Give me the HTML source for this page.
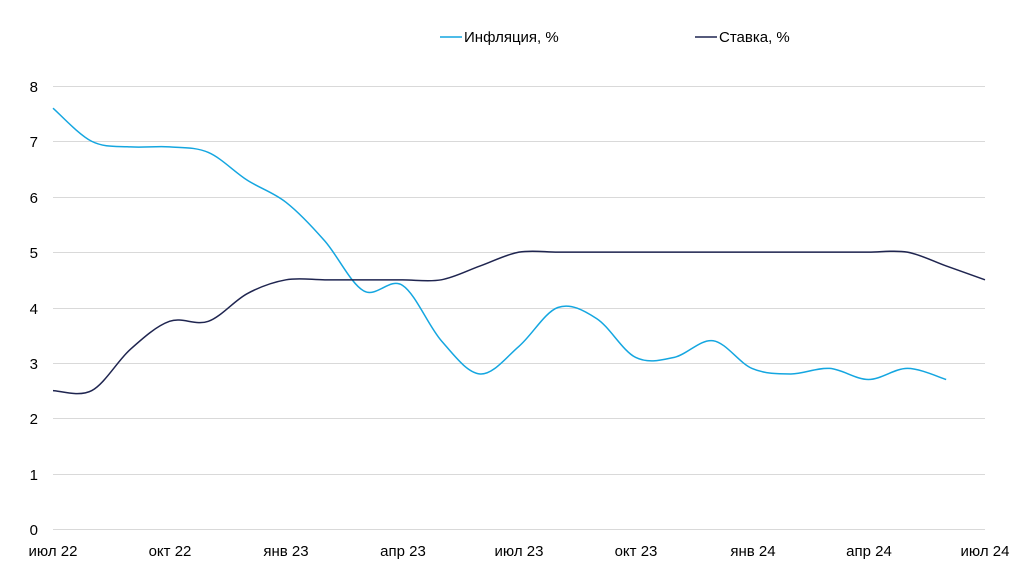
<!DOCTYPE html>
<html><head><meta charset="utf-8"><style>
body{margin:0;background:#fff;}
svg{display:block;font-family:"Liberation Sans","DejaVu Sans",sans-serif;}
</style></head><body>
<svg id="c" width="1024" height="588" xmlns="http://www.w3.org/2000/svg">
<g stroke="#d9d9d9" stroke-width="1">
<line x1="53" x2="985" y1="86.5" y2="86.5"/><line x1="53" x2="985" y1="141.5" y2="141.5"/>
<line x1="53" x2="985" y1="197.5" y2="197.5"/><line x1="53" x2="985" y1="252.5" y2="252.5"/>
<line x1="53" x2="985" y1="308.5" y2="308.5"/><line x1="53" x2="985" y1="363.5" y2="363.5"/>
<line x1="53" x2="985" y1="418.5" y2="418.5"/><line x1="53" x2="985" y1="474.5" y2="474.5"/>
<line x1="53" x2="985" y1="529.5" y2="529.5"/>
</g>
<g font-size="15" fill="#000" text-anchor="end">
<text x="38" y="92">8</text><text x="38" y="147">7</text><text x="38" y="203">6</text>
<text x="38" y="258">5</text><text x="38" y="314">4</text><text x="38" y="369">3</text>
<text x="38" y="424">2</text><text x="38" y="480">1</text><text x="38" y="535">0</text>
</g>
<g font-size="15" fill="#000" text-anchor="middle">
<text x="53" y="556">июл 22</text><text x="170" y="556">окт 22</text><text x="286" y="556">янв 23</text>
<text x="403" y="556">апр 23</text><text x="519" y="556">июл 23</text><text x="636" y="556">окт 23</text>
<text x="753" y="556">янв 24</text><text x="869" y="556">апр 24</text><text x="985" y="556">июл 24</text>
</g>
<line x1="440" x2="462" y1="37" y2="37" stroke="#14a6e0" stroke-width="1.5"/>
<text x="464" y="42" font-size="15">Инфляция, %</text>
<line x1="695" x2="717" y1="37" y2="37" stroke="#1f2550" stroke-width="1.5"/>
<text x="719" y="42" font-size="15">Ставка, %</text>
<path id="inf" fill="none" stroke="#14a6e0" stroke-width="1.5"/>
<path id="rate" fill="none" stroke="#1f2550" stroke-width="1.5"/>
</svg>
<script>
function X(i){return 53+i*932/24;}function Y(v){return 529-v*55.375;}
function path(d){var p=d.map(function(v,i){return [X(i),Y(v)];});
var s="M"+p[0][0]+","+p[0][1];
for(var i=0;i<p.length-1;i++){var a=p[i-1]||p[i],b=p[i],c=p[i+1],e=p[i+2]||c;
s+=" C"+(b[0]+(c[0]-a[0])/6)+","+(b[1]+(c[1]-a[1])/6)+" "+(c[0]-(e[0]-b[0])/6)+","+(c[1]-(e[1]-b[1])/6)+" "+c[0]+","+c[1];}
return s;}
document.getElementById("inf").setAttribute("d",path([7.6,7.0,6.9,6.9,6.8,6.3,5.9,5.2,4.3,4.4,3.4,2.8,3.3,4.0,3.8,3.1,3.1,3.4,2.9,2.8,2.9,2.7,2.9,2.7]));
document.getElementById("rate").setAttribute("d",path([2.5,2.5,3.25,3.75,3.75,4.25,4.5,4.5,4.5,4.5,4.5,4.75,5,5,5,5,5,5,5,5,5,5,5,4.75,4.5]));
</script>
</body></html>
